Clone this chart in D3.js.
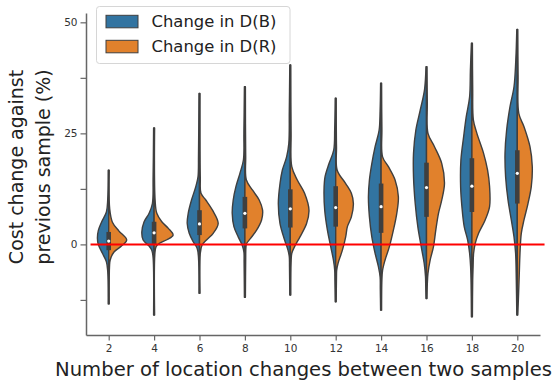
<!DOCTYPE html>
<html>
<head>
<meta charset="utf-8">
<script src="https://cdn.jsdelivr.net/npm/d3@7"></script>
<style>
  html, body { margin: 0; padding: 0; background: #fff; }
  svg { display: block; font-family: "DejaVu Sans", sans-serif; }
</style>
</head>
<body>
<svg id="chart" width="555" height="383"></svg>
<script>
const categories = ['2', '4', '6', '8', '10', '12', '14', '16', '18', '20'];
const seriesNames = ['Change in D(B)', 'Change in D(R)'];
const seriesColors = ['#3274a1', '#e1812c'];

// density profiles: [value, half width]
const densityB = [
  [[-13.4, 0.5], [-6, 1], [-3.9, 2.3], [-2, 6.3], [-0.1, 10.3], [1.4, 11.3], [3.2, 10.3], [5.1, 7], [7.3, 2.3], [10, 1], [16.7, 0.5]],
  [[-15.9, 0.5], [-3, 1], [-1.3, 2.3], [-0.4, 5], [1, 11], [2.8, 12.3], [5.1, 10], [7, 5], [9.2, 1.7], [15, 1], [26.2, 0.5]],
  [[-11, 0.5], [-3, 1], [-0.9, 2.3], [0.6, 6.3], [2.5, 10.3], [4.7, 12.3], [7, 11.3], [10, 8], [13, 3.7], [15.2, 1.5], [20, 1], [34, 0.5]],
  [[-11.9, 0.5], [-4, 0.8], [-1.7, 1], [-0.2, 2.7], [1.7, 6.7], [4, 11], [7, 12.7], [10, 11.7], [13, 9], [16, 5], [19, 1.5], [25, 1], [35.5, 0.5]],
  [[-11.4, 0.5], [-5, 0.8], [-2.8, 1], [-1.3, 2.3], [1, 5.7], [4.7, 10.3], [9.2, 12], [13.7, 10.3], [16.7, 8], [19.7, 3.7], [22.7, 1.5], [30, 1], [40.4, 0.5]],
  [[-12.9, 0.5], [-8, 0.8], [-5.8, 1], [-3.5, 2.3], [-0.5, 5], [3.2, 8.3], [7.7, 11], [12.2, 11.7], [15.2, 10.7], [18.2, 6.7], [21.2, 2], [26, 1], [32.9, 0.5]],
  [[-14.8, 0.5], [-10, 0.8], [-7.3, 1], [-5, 2.7], [-2, 6], [1.7, 9.3], [6.2, 11.7], [10.7, 12.7], [14.5, 11.7], [18.2, 9.3], [22, 6], [25.7, 2], [30, 1], [36.3, 0.5]],
  [[-12.2, 0.5], [-9, 0.8], [-7.3, 1], [-4.3, 2.3], [-0.5, 5.3], [4, 8.7], [9.2, 11.3], [15.2, 13], [20.5, 13], [25.7, 10.7], [30.2, 6.3], [34.8, 2], [40, 0.5]],
  [[-16.3, 0.5], [-9, 0.8], [-5, 1.3], [-2, 2.3], [1, 4.3], [4, 7.7], [8.5, 10], [13, 11.3], [19, 11], [24.2, 8.3], [28.7, 5.7], [33.2, 2.3], [39.2, 1.5], [45.3, 0.5]],
  [[-15.9, 0.5], [-8, 1], [-2, 1.7], [1.7, 3.3], [5.5, 6], [10, 9.3], [15.2, 11.7], [20.5, 12.3], [25.7, 10.7], [31, 7.3], [35.5, 3.3], [41.5, 1.5], [48.4, 0.5]]
];
const densityR = [
  [[-13.4, 0.5], [-5, 0.8], [-3.5, 1.5], [-1.7, 5.3], [-0.5, 12], [1, 18], [3, 10.3], [5, 3.7], [8, 1], [16.7, 0.5]],
  [[-15.9, 0.5], [-2, 0.8], [-0.5, 2], [0.2, 5], [1.1, 13.3], [2.1, 19], [3.6, 14.3], [5.1, 7.7], [7, 2.7], [10, 1], [26.2, 0.5]],
  [[-11, 0.5], [-2, 0.8], [-0.2, 2.5], [1, 7], [2.5, 13.7], [4.7, 18.7], [7.7, 13], [10, 6.3], [11.5, 1.5], [15, 0.8], [34, 0.5]],
  [[-11.9, 0.5], [-3, 0.8], [-0.8, 1], [0.2, 1.7], [1.35, 5.7], [3.2, 11.7], [5.5, 16.7], [7.7, 17.7], [10, 14.3], [12.2, 7.7], [14.5, 1.5], [20, 0.8], [35.5, 0.5]],
  [[-11.4, 0.5], [-4, 0.8], [-2, 1.5], [-0.5, 4.3], [1.7, 9.7], [4.7, 16.3], [7.7, 18.7], [11.5, 14.3], [14.5, 7], [17.5, 1.5], [25, 0.8], [40.4, 0.5]],
  [[-12.9, 0.5], [-7, 0.8], [-5.8, 1], [-4.3, 2.3], [-1.3, 6.7], [1.7, 10], [4, 11.7], [6.2, 15.7], [9.2, 17.7], [11.5, 15.7], [13.7, 10], [16.7, 1.5], [22, 0.8], [32.9, 0.5]],
  [[-14.8, 0.5], [-8, 0.8], [-5.8, 1.5], [-3.5, 4], [-0.5, 8.3], [3.2, 12.3], [7, 15.7], [10.7, 17.3], [14.5, 14], [17.5, 7.3], [19.7, 1.5], [26, 0.8], [36.3, 0.5]],
  [[-12.2, 0.5], [-9, 0.8], [-6.5, 1.5], [-3.5, 3.7], [-0.5, 7], [3.2, 9.3], [7, 12], [10, 15.3], [13.7, 18], [18.2, 15.3], [22, 8], [25, 1.5], [32, 0.8], [40, 0.5]],
  [[-16.3, 0.5], [-8, 0.8], [-5, 1.2], [-2, 1.7], [0.2, 3.3], [2.5, 6.7], [5.5, 13.3], [8.5, 17.7], [13, 17.7], [16.7, 15.7], [20.5, 11.7], [25, 5], [28, 1.5], [35, 0.8], [45.3, 0.5]],
  [[-15.9, 0.5], [-11, 1.3], [-6.5, 2], [-2, 2.7], [2.5, 4], [5.5, 6.7], [9.2, 10.7], [13, 14], [17.5, 15], [22, 12.7], [26.5, 6.7], [29.5, 1.5], [38, 0.8], [48.4, 0.5]]
];
// inner box: [q1, median, q3]
const quartiles = [
  [-1.3, 0.75, 2.8], [0.1, 2.6, 5.1], [2.1, 4.6, 7.7], [3.6, 7, 10.7], [3.8, 8, 12.4],
  [4, 8.3, 13.1], [2.6, 8.5, 13.7], [6.2, 12.8, 18.4], [7.3, 13.1, 19.4], [9.2, 16, 21.2]
];
const yTicks = [-12.5, 0, 12.5, 25, 37.5, 50];
const yTickLabels = ['', '0', '', '25', '', '50'];
const refValue = 0;

const svg = d3.select('#chart');
const plot = { left: 86, right: 540, top: 13, bottom: 335 };
const edgeColor = '#3f3f3f';
const axisColor = '#666';

const x = d3.scalePoint().domain(categories).range([plot.left, plot.right]).padding(0.5);
const y = d3.scaleLinear().domain([-20.4, 52.1]).range([plot.bottom, plot.top]);
const w = d3.scaleLinear().domain([0, 20]).range([0, x.step() * 0.44]);

const violins = svg.append('g').attr('class', 'violins');

categories.forEach((cat, i) => {
  const cx = x(cat);
  const g = violins.append('g').attr('class', 'violin');
  [densityB[i], densityR[i]].forEach((profile, s) => {
    const dir = s === 0 ? -1 : 1;
    const area = d3.area()
      .curve(d3.curveCatmullRom.alpha(0.5))
      .y(d => y(d[0]))
      .x0(cx)
      .x1(d => cx + dir * w(d[1]));
    g.append('path')
      .attr('d', area(profile))
      .attr('fill', seriesColors[s])
      .attr('stroke', edgeColor)
      .attr('stroke-width', 1.4)
      .attr('stroke-linejoin', 'round');
  });
  const [q1, med, q3] = quartiles[i];
  g.append('rect')
    .attr('x', cx - 2.3)
    .attr('width', 4.6)
    .attr('y', y(q3))
    .attr('height', y(q1) - y(q3))
    .attr('fill', edgeColor);
  g.append('circle')
    .attr('cx', cx)
    .attr('cy', y(med))
    .attr('r', 1.6)
    .attr('fill', '#fff');
});

// axes
const yAxis = svg.append('g')
  .attr('transform', `translate(${plot.left},0)`)
  .call(d3.axisLeft(y).tickValues(yTicks).tickFormat((d, i) => yTickLabels[i]).tickSize(5.5).tickPadding(3).tickSizeOuter(0));
const xAxis = svg.append('g')
  .attr('transform', `translate(0,${plot.bottom})`)
  .call(d3.axisBottom(x).tickSize(5.5).tickPadding(4).tickSizeOuter(0));

[xAxis, yAxis].forEach(ax => {
  ax.select('.domain').attr('stroke', axisColor).attr('stroke-width', 1.5);
  ax.selectAll('.tick line').attr('stroke', axisColor).attr('stroke-width', 1.2);
  ax.selectAll('.tick text')
    .attr('fill', '#333')
    .style('font-size', '10.5px')
    .style('font-family', '"DejaVu Sans", sans-serif');
});

// red reference line
svg.append('line')
  .attr('x1', x(categories[0]) - 0.4 * x.step())
  .attr('x2', x(categories[categories.length - 1]) + 0.6 * x.step())
  .attr('y1', y(refValue))
  .attr('y2', y(refValue))
  .attr('stroke', '#ff0000')
  .attr('stroke-width', 2);

// axis labels
svg.append('text')
  .attr('x', 303.5)
  .attr('y', 376)
  .attr('text-anchor', 'middle')
  .attr('fill', '#222')
  .style('font-size', '19.6px')
  .text('Number of location changes between two samples');

const yLabel = svg.append('g').attr('transform', 'translate(0,167) rotate(-90)');
['Cost change against', 'previous sample (%)'].forEach((line, i) => {
  yLabel.append('text')
    .attr('x', 0)
    .attr('y', 23 + i * 26.5)
    .attr('text-anchor', 'middle')
    .attr('fill', '#222')
    .style('font-size', '19px')
    .text(line);
});

// legend
const legend = svg.append('g').attr('class', 'legend');
legend.append('rect')
  .attr('x', 96.5).attr('y', 6.5)
  .attr('width', 193.5).attr('height', 57)
  .attr('rx', 3)
  .attr('fill', '#fff').attr('fill-opacity', 0.8)
  .attr('stroke', '#d6d6d6');
seriesNames.forEach((name, i) => {
  legend.append('rect')
    .attr('x', 106).attr('y', 15.3 + i * 25)
    .attr('width', 32).attr('height', 12.5)
    .attr('fill', seriesColors[i])
    .attr('stroke', edgeColor).attr('stroke-width', 1);
  legend.append('text')
    .attr('x', 151.5).attr('y', 27.3 + i * 25)
    .attr('fill', '#222')
    .style('font-size', '16.4px')
    .text(name);
});
</script>
</body>
</html>
